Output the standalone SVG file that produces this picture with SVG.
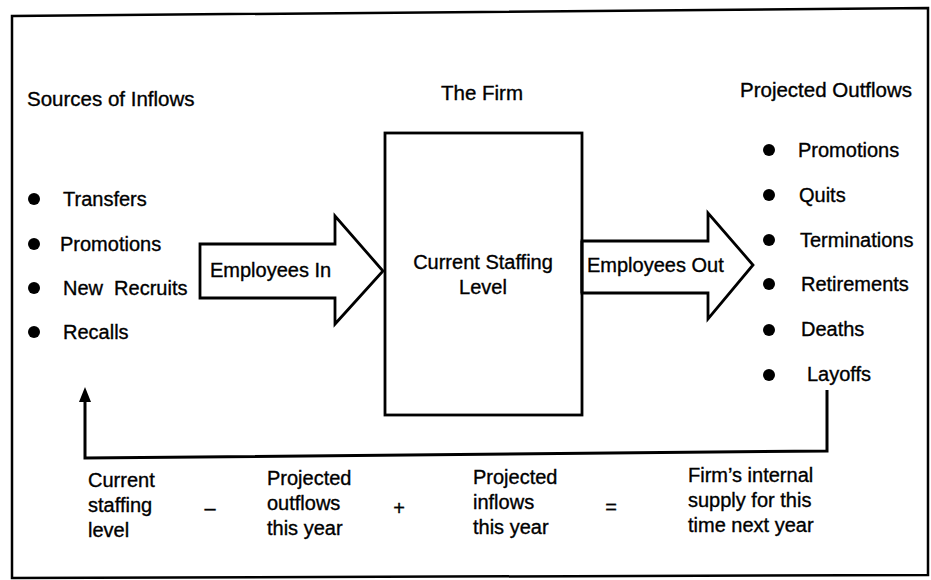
<svg xmlns="http://www.w3.org/2000/svg" width="931" height="580" viewBox="0 0 931 580">
  <style>
    text { font-family: "Liberation Sans", Arial, sans-serif; font-size: 20px; fill: #000; stroke: #000; stroke-width: 0.35; }
    .head { font-size: 20.5px; }
    .bul { fill: #000; }
    .shape { fill: #fff; stroke: #000; stroke-width: 2.8; stroke-linejoin: miter; }
    .line { fill: none; stroke: #000; stroke-width: 3; }
    .mid { text-anchor: middle; }
  </style>
  <defs>
    <marker id="arrowhead" viewBox="0 0 15 12" markerWidth="15" markerHeight="12" refX="7" refY="6" orient="auto" markerUnits="userSpaceOnUse">
      <path d="M0,0 L15,6 L0,12 z" fill="#000"/>
    </marker>
  </defs>
  <rect width="931" height="580" fill="#fff"/>
  <polygon id="frame" points="12,16 928,8 928,575 12,578" fill="none" stroke="#000" stroke-width="2.5"/>

  <g id="heading-inflows"><text class="head" x="27" y="106">Sources of Inflows</text></g>
  <g id="heading-firm"><text class="head mid" x="482" y="100">The Firm</text></g>
  <g id="heading-outflows"><text class="head" x="740" y="97">Projected Outflows</text></g>

  <g id="inflows">
    <circle class="bul" cx="34" cy="199" r="6"/><text x="63" y="206">Transfers</text>
    <circle class="bul" cx="34" cy="244" r="6"/><text x="60" y="251">Promotions</text>
    <circle class="bul" cx="34" cy="288" r="6"/><text x="63" y="295" xml:space="preserve">New  Recruits</text>
    <circle class="bul" cx="34" cy="332" r="6"/><text x="63" y="339">Recalls</text>
  </g>

  <g id="firm">
    <rect class="shape" x="385" y="133" width="197" height="282"/>
    <text class="mid" x="483" y="269">Current Staffing</text>
    <text class="mid" x="483" y="294">Level</text>
  </g>

  <g id="outflows">
    <circle class="bul" cx="769" cy="150" r="6"/><text x="798" y="157">Promotions</text>
    <circle class="bul" cx="769" cy="195" r="6"/><text x="799" y="202">Quits</text>
    <circle class="bul" cx="769" cy="240" r="6"/><text x="800" y="247">Terminations</text>
    <circle class="bul" cx="769" cy="284" r="6"/><text x="801" y="291">Retirements</text>
    <circle class="bul" cx="769" cy="330" r="6"/><text x="801" y="336">Deaths</text>
    <circle class="bul" cx="769" cy="375" r="6"/><text x="807" y="381">Layoffs</text>
  </g>

  <g id="connectors">
    <g id="employees-in">
      <polygon class="shape" points="200,244 335,244 335,216 383,271 335,324 335,298 200,298"/>
      <text x="210" y="277">Employees In</text>
    </g>
    <g id="employees-out">
      <polygon class="shape" points="582,241 708,241 708,213 753,265 708,319 708,293 582,293"/>
      <line x1="582" y1="241" x2="582" y2="293" stroke="#000" stroke-width="2.8"/>
      <text x="587" y="272">Employees Out</text>
    </g>
    <polyline id="feedback" class="line" points="827,390 827,451 85,458 85,395" marker-end="url(#arrowhead)"/>
  </g>

  <g id="equation">
    <g id="eq-current">
      <text x="88" y="487">Current</text>
      <text x="88" y="512">staffing</text>
      <text x="88" y="537">level</text>
    </g>
    <text x="210" y="515" class="mid">–</text>
    <g id="eq-outflows">
      <text x="267" y="485">Projected</text>
      <text x="267" y="510">outflows</text>
      <text x="267" y="535">this year</text>
    </g>
    <text x="399" y="515" class="mid">+</text>
    <g id="eq-inflows">
      <text x="473" y="484">Projected</text>
      <text x="473" y="509">inflows</text>
      <text x="473" y="534">this year</text>
    </g>
    <text x="611" y="514" class="mid">=</text>
    <g id="eq-supply">
      <text x="688" y="482">Firm’s internal</text>
      <text x="688" y="507">supply for this</text>
      <text x="688" y="532">time next year</text>
    </g>
  </g>
</svg>
